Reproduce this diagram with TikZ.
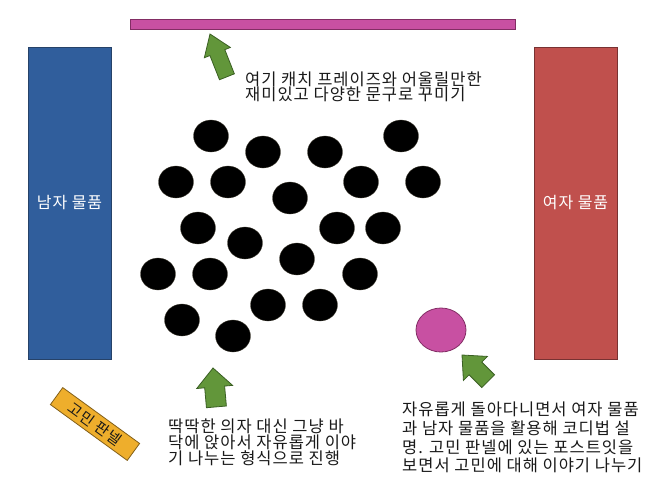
\documentclass[tikz,border=0pt]{standalone}
\usepackage{fontspec}
\setmainfont{Noto Sans CJK KR}
\newfontfamily\krspaced[LetterSpace=6]{Noto Sans CJK KR}
\usetikzlibrary{shapes.geometric}
\definecolor{malefill}{RGB}{48,94,156}
\definecolor{maleline}{RGB}{38,66,104}
\definecolor{femfill}{RGB}{192,80,77}
\definecolor{femline}{RGB}{120,50,50}
\definecolor{magfill}{RGB}{200,80,162}
\definecolor{magline}{RGB}{130,45,100}
\definecolor{orfill}{RGB}{238,174,44}
\definecolor{orline}{RGB}{130,95,25}
\definecolor{arrfill}{RGB}{98,150,58}
\definecolor{arrline}{RGB}{58,95,35}
\definecolor{txtcol}{RGB}{25,25,25}
\tikzset{
  panelbox/.style={draw, line width=0.8pt, inner sep=0pt, text=white, font=\krspaced\fontsize{16}{16}\selectfont},
  seat/.style={ellipse, fill=black, draw=black!80!yellow, line width=0.3pt, minimum width=35pt, minimum height=32pt, inner sep=0pt},
  caption/.style={align=left, inner sep=0pt, text=txtcol, anchor=north west},
  arrowshape/.style={fill=arrfill, draw=arrline, line width=0.8pt, line join=miter},
  pics/blockarrow/.style n args={4}{code={
    \path[arrowshape] (0,0) -- (#3,#2) -- (#4,#2) -- (#4,#1) -- (-#4,#1) -- (-#4,#2) -- (-#3,#2) -- cycle;
  }}
}
\begin{document}
\begin{tikzpicture}[x=1pt,y=-1pt]
\useasboundingbox (0,0) rectangle (650,488);
% top bar
\node[draw=magline, fill=magfill, line width=0.8pt, minimum width=385pt, minimum height=10pt, inner sep=0pt] (bar) at (322.5,24) {};
% panels
\node[panelbox, draw=maleline, fill=malefill, minimum width=83pt, minimum height=312pt] (male) at (69.5,203) {남자 물품};
\node[panelbox, draw=femline, fill=femfill, minimum width=83pt, minimum height=312pt] (female) at (575.5,203) {여자 물품};
% seats
\node[seat] (s1) at (211,136) {};
\node[seat] (s2) at (263,152) {};
\node[seat] (s3) at (325,152) {};
\node[seat] (s4) at (401,136) {};
\node[seat] (s5) at (176,182) {};
\node[seat] (s6) at (228,182) {};
\node[seat] (s7) at (290,198) {};
\node[seat] (s8) at (361,182) {};
\node[seat] (s9) at (423,182) {};
\node[seat] (s10) at (198,228) {};
\node[seat] (s11) at (245,243) {};
\node[seat] (s12) at (297,259) {};
\node[seat] (s13) at (337,228) {};
\node[seat] (s14) at (383,228) {};
\node[seat] (s15) at (158,274) {};
\node[seat] (s16) at (210,274) {};
\node[seat] (s17) at (360,274) {};
\node[seat] (s18) at (268,305) {};
\node[seat] (s19) at (320,305) {};
\node[seat] (s20) at (182,320) {};
\node[seat] (s21) at (233,336) {};
% magenta circle
\node[ellipse, draw=magline, fill=magfill, line width=0.8pt, minimum width=50pt, minimum height=44pt, inner sep=0pt] (guide) at (441,330) {};
% gomin panel
\node[draw=orline, fill=orfill, line width=0.8pt, rotate=-36, minimum width=95pt, minimum height=21pt, inner sep=0pt, text=txtcol, font=\krspaced\fontsize{15}{15}\selectfont] (gomin) at (95,424) {고민 판넬};
% arrows
\pic[rotate=21.6] (arrtop) at (210,34) {blockarrow={46}{20}{14}{8}};
\pic[rotate=5] (arrmid) at (213,368) {blockarrow={39}{19}{18}{10}};
\pic[rotate=45] (arrright) at (462,355) {blockarrow={37}{19}{17}{9}};
% captions
\node[caption, font=\krspaced\fontsize{16.5}{15}\selectfont] (captop) at (245,72) {여기 캐치 프레이즈와 어울릴만한\\재미있고 다양한 문구로 꾸미기};
\node[caption, font=\krspaced\fontsize{16.5}{16}\selectfont] (capmid) at (168,419) {딱딱한 의자 대신 그냥 바\\닥에 앉아서 자유롭게 이야\\기 나누는 형식으로 진행};
\node[caption, font=\krspaced\fontsize{16.5}{18.7}\selectfont] (capright) at (402,402) {자유롭게 돌아다니면서 여자 물품\\과 남자 물품을 활용해 코디법 설\\명. 고민 판넬에 있는 포스트잇을\\보면서 고민에 대해 이야기 나누기};
\end{tikzpicture}
\end{document}
